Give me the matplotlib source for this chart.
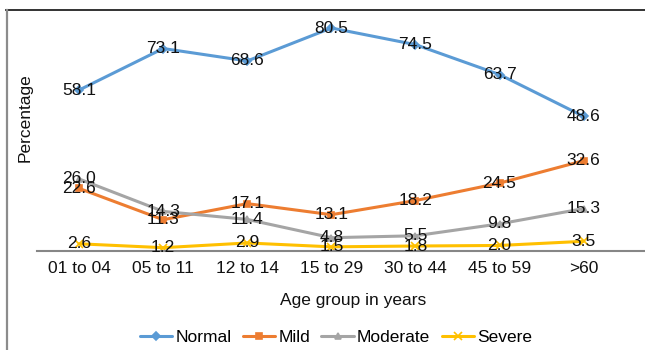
import matplotlib
matplotlib.use("Agg")
import matplotlib.pyplot as plt
from matplotlib.lines import Line2D

plt.rcParams['font.family'] = ['Liberation Sans', 'DejaVu Sans']

age_groups = ["01 to 04", "05 to 11", "12 to 14", "15 to 29", "30 to 44", "45 to 59", ">60"]
normal = [58.1, 73.1, 68.6, 80.5, 74.5, 63.7, 48.6]
mild = [22.6, 11.3, 17.1, 13.1, 18.2, 24.5, 32.6]
moderate = [26.0, 14.3, 11.4, 4.8, 5.5, 9.8, 15.3]
severe = [2.6, 1.2, 2.9, 1.5, 1.8, 2.0, 3.5]

series = [
    ("Normal", normal, "#5B9BD5", "D", 4),
    ("Mild", mild, "#ED7D31", "s", 5),
    ("Moderate", moderate, "#A5A5A5", "^", 5),
    ("Severe", severe, "#FFC000", "x", 6),
]

W, H = 645, 350
fig = plt.figure(figsize=(W / 100, H / 100), dpi=100)

# axes placement in pixel terms
left, right, top, bottom = 37, 645, 10, 251
ax = fig.add_axes([left / W, 1 - bottom / H, (right - left) / W, (bottom - top) / H])

x = list(range(len(age_groups)))
for name, vals, color, marker, ms in series:
    ax.plot(x, vals, color=color, lw=2.2, marker=marker, markersize=ms,
            markeredgewidth=1.2, label=name, solid_capstyle="round")
    for xi, v in zip(x, vals):
        ax.text(xi, v, f"{v:.1f}", ha="center", va="center", fontsize=12.5,
                color="#111111")

ax.set_xlim(-0.5, 6.73)
ax.set_ylim(0, 87)
ax.set_xticks(x)
ax.set_xticklabels(age_groups, fontsize=12.5, color="#111111")
ax.set_yticks([])
ax.tick_params(axis="x", length=0, pad=7)
for side in ["top", "right", "left"]:
    ax.spines[side].set_visible(False)
ax.spines["bottom"].set_color("#868686")
ax.spines["bottom"].set_linewidth(1.5)
ax.patch.set_alpha(0)

fig.text(25 / W, 1 - 118 / H, "Percentage", rotation=90, ha="center", va="center",
         fontsize=12.5, color="#111111")
fig.text(353 / W, 1 - 300 / H, "Age group in years", ha="center", va="center",
         fontsize=12.5, color="#111111")

fig.legend(loc="center", bbox_to_anchor=(336 / W, 1 - 337 / H), ncol=4,
           frameon=False, fontsize=12.5, handlelength=1.85, handletextpad=0.2,
           columnspacing=0.65, borderaxespad=0)

# outer frame: dark top edge and grey left edge
fig.add_artist(Line2D([6 / W, 1], [1 - 9.5 / H, 1 - 9.5 / H], color="#222222",
                      lw=1.3, transform=fig.transFigure))
fig.add_artist(Line2D([6.5 / W, 6.5 / W], [0, 1 - 9.5 / H], color="#8c8c8c",
                      lw=1.6, transform=fig.transFigure))

fig.savefig("out.png", dpi=100)
